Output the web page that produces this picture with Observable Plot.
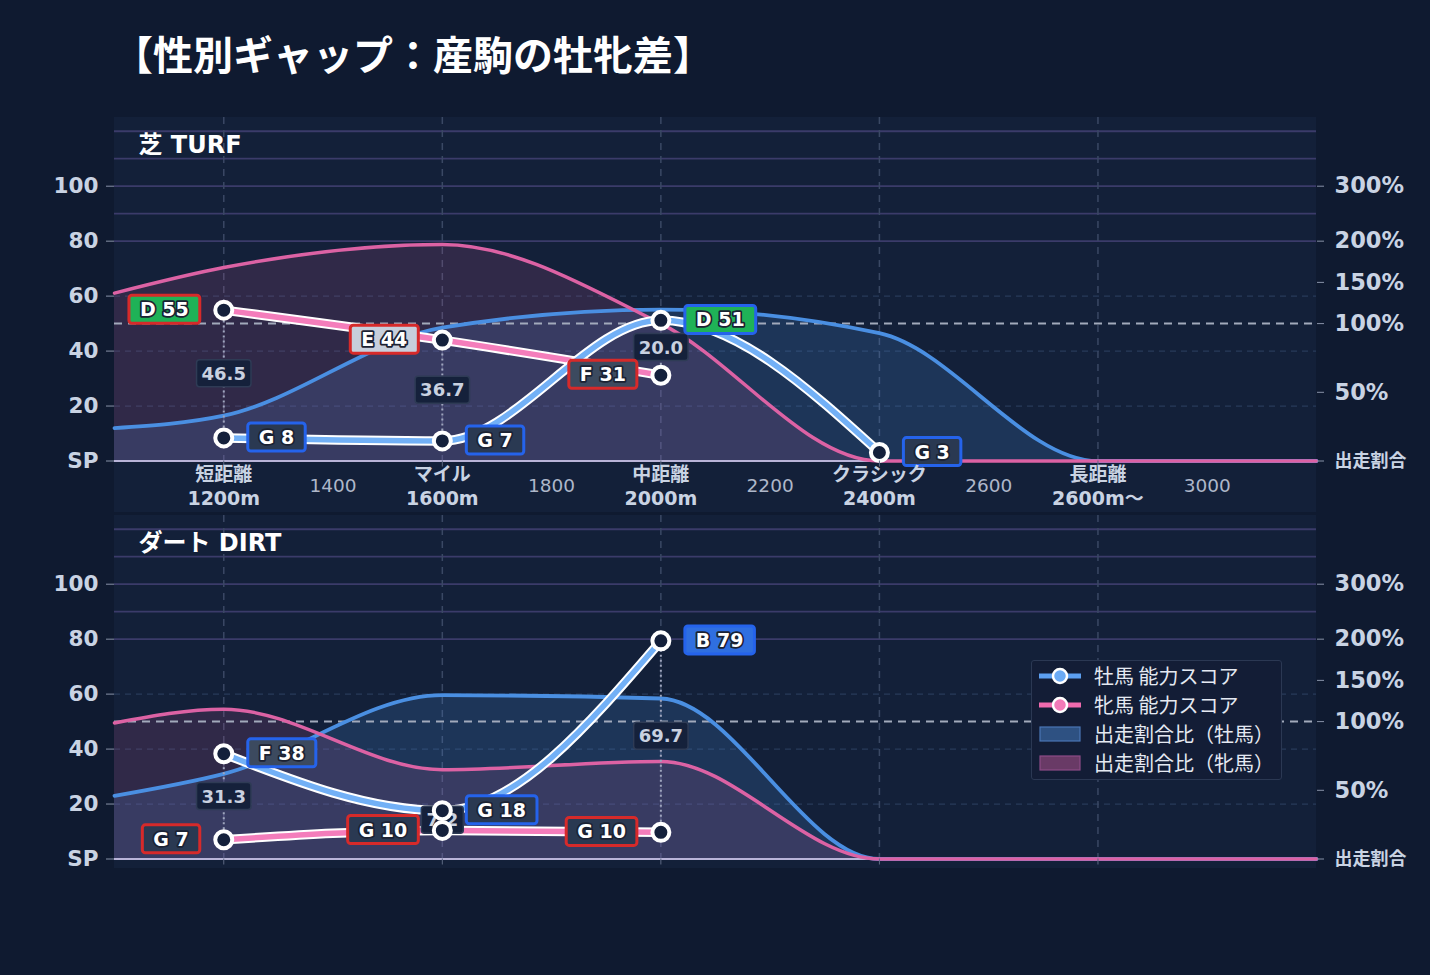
<!DOCTYPE html>
<html lang="ja">
<head>
<meta charset="utf-8">
<script src="https://cdn.jsdelivr.net/npm/d3@7"></script>
<script src="https://cdn.jsdelivr.net/npm/@observablehq/plot@0.6"></script>
<style>
html,body{margin:0;padding:0;}
body{width:1430px;height:975px;background:#0f1a30;position:relative;overflow:hidden;font-family:"DejaVu Sans","Noto Sans CJK JP",sans-serif;}
#title{position:absolute;left:113px;top:26px;font-family:"Noto Sans CJK JP",sans-serif;font-size:40px;font-weight:700;color:#fff;line-height:54px;white-space:nowrap;}
.pbg{position:absolute;left:114px;width:1202px;background:#132039;}
.panel{position:absolute;left:0;}
#legend{position:absolute;left:1031px;top:660px;width:249px;height:118px;background:#131d36;border:1.5px solid #2b3853;border-radius:3px;padding-top:0px;box-sizing:content-box;}
.lrow{display:flex;align-items:center;height:29px;}
.lrow svg{margin-left:6px;margin-right:12px;flex:none;}
.lrow span{font-family:"Noto Sans CJK JP",sans-serif;font-size:20px;color:#e4e9f2;line-height:29px;white-space:nowrap;}
</style>
</head>
<body>
<div id="title">【性別ギャップ：産駒の牡牝差】</div>
<div class="pbg" style="top:117px;height:395px"></div>
<div class="pbg" style="top:515px;height:353px"></div>
<div id="turf" class="panel" style="top:117px"></div>
<div id="dirt" class="panel" style="top:515px"></div>
<div id="legend"></div>
<script>
// ---- categories / ticks ----
const categories = ["短距離\n1200m", "マイル\n1600m", "中距離\n2000m", "クラシック\n2400m", "長距離\n2600m〜"];
const catPos = [0, 1, 2, 3, 4];
const subLabels = ["1400", "1800", "2200", "2600", "3000"];
const subPos = [0.5, 1.5, 2.5, 3.5, 4.5];
const scoreTicks = [0, 20, 40, 60, 80, 100];
const scoreTickLabels = ["SP", "20", "40", "60", "80", "100"];
const ratioTicks = [0, 50, 100, 150, 200, 300];
const ratioTickLabels = ["出走割合", "50%", "100%", "150%", "200%", "300%"];
const ratioKnots = [0, 100, 200, 300];
const ratioKnotScores = [0, 50, 80, 100];
const strongGrid = [80, 90, 100, 110, 120];
const weakGrid = [20, 40, 60];
const areaPos = [-0.5, 0, 1, 2, 3, 4, 5];

// ---- 芝 TURF ----
const turfMaleScore = [8.4, 7.3, 51.2, 3.1, null];
const turfMaleGrade = ["G", "G", "D", "G", null];
const turfFemaleScore = [54.9, 44.0, 31.2, null, null];
const turfFemaleGrade = ["D", "E", "F", null, null];
const turfMaleRatio = [24, 33, 97, 117, 93, 0, 0];
const turfFemaleRatio = [137, 168, 196, 100, 0, 0, 0];

// ---- ダート DIRT ----
const dirtMaleScore = [38.3, 17.6, 79.4, null, null];
const dirtMaleGrade = ["F", "G", "B", null, null];
const dirtFemaleScore = [7.0, 10.4, 9.7, null, null];
const dirtFemaleGrade = ["G", "G", "G", null, null];
const dirtMaleRatio = [46, 62, 132, 128, 0, 0, 0];
const dirtFemaleRatio = [99, 115, 65, 71, 0, 0, 0];

const legendLabels = ["牡馬 能力スコア", "牝馬 能力スコア", "出走割合比（牡馬）", "出走割合比（牝馬）"];

const gradeFill = {B: "#2f6fe0", D: "#1fb257", E: "#c7cfdc", F: "#3c4a5f", G: "#2a3952"};
const maleBorder = "#2563eb", femaleBorder = "#d62a2a";

const ratioScale = d3.scaleLinear().domain(ratioKnots).range(ratioKnotScores);
const FONT = '"DejaVu Sans","Noto Sans CJK JP",sans-serif';

function boxify(svg, label, styleFn, padX, h) {
  const texts = svg.querySelectorAll(`g[aria-description="${label}"] text`);
  texts.forEach((t, i) => {
    const bb = t.getBBox();
    const st = styleFn(i);
    const r = document.createElementNS("http://www.w3.org/2000/svg", "rect");
    r.setAttribute("x", bb.x - padX);
    r.setAttribute("width", bb.width + 2 * padX);
    r.setAttribute("y", bb.y + bb.height / 2 - h / 2);
    r.setAttribute("height", h);
    r.setAttribute("rx", 3);
    r.setAttribute("fill", st.fill);
    r.setAttribute("stroke", st.stroke);
    r.setAttribute("stroke-width", st.sw);
    r.setAttribute("paint-order", "fill");
    if (t.getAttribute("transform")) r.setAttribute("transform", t.getAttribute("transform"));
    t.parentNode.insertBefore(r, t);
  });
}

function makePanel(el, o) {
  const rows = (scores, grades) => catPos.map(i => ({x: i, y: scores[i], grade: grades[i]})).filter(d => d.y != null);
  const male = rows(o.maleScore, o.maleGrade);
  const female = rows(o.femaleScore, o.femaleGrade);
  const gaps = catPos.filter(i => o.maleScore[i] != null && o.femaleScore[i] != null).map(i => {
    const a = o.maleScore[i], b = o.femaleScore[i];
    return {x: i, y1: Math.min(a, b), y2: Math.max(a, b), mid: (a + b) / 2, label: Math.abs(a - b).toFixed(1)};
  });
  const area = ratios => areaPos.map((p, i) => ({x: p, y: ratioScale(ratios[i])}));
  const mA = area(o.maleRatio), fA = area(o.femaleRatio);
  const curve = "monotone-x";
  const leftMap = new Map(scoreTicks.map((d, i) => [d, scoreTickLabels[i]]));
  const rightVals = ratioTicks.map(r => ratioScale(r));
  const rightMap = new Map(rightVals.map((d, i) => [d, ratioTickLabels[i]]));

  const marks = [
    Plot.ruleY(weakGrid, {stroke: "#283a5a", strokeWidth: 1.3, strokeDasharray: "6,5"}),
    Plot.ruleY(strongGrid, {stroke: "#3b3b6a", strokeWidth: 1.8}),
    Plot.ruleX(catPos, {stroke: "#3a4864", strokeWidth: 1.5, strokeDasharray: "7,6"}),
    Plot.areaY(mA, {x: "x", y: "y", curve, fill: "#4a8fe0", fillOpacity: 0.19}),
    Plot.areaY(fA, {x: "x", y: "y", curve, fill: "#d9609f", fillOpacity: 0.15}),
    Plot.ruleY([ratioScale(100)], {stroke: "#a2aabb", strokeWidth: 2, strokeDasharray: "8,6"}),
    Plot.ruleY([0], {stroke: "#b9b4d8", strokeWidth: 2}),
    Plot.line(mA, {x: "x", y: "y", curve, stroke: "#4a8fe2", strokeWidth: 3.8}),
    Plot.line(fA, {x: "x", y: "y", curve, stroke: "#dc62a4", strokeWidth: 3.5}),
    Plot.ruleX(gaps, {x: "x", y1: "y1", y2: "y2", stroke: "#9ea5bd", strokeWidth: 2, strokeDasharray: "2,3"}),
    Plot.line(female, {x: "x", y: "y", curve, stroke: "#ffffff", strokeWidth: 9.5}),
    Plot.line(female, {x: "x", y: "y", curve, stroke: "#f47dbb", strokeWidth: 5.5}),
    Plot.line(male, {x: "x", y: "y", curve, stroke: "#ffffff", strokeWidth: 9.5}),
    Plot.line(male, {x: "x", y: "y", curve, stroke: "#72b0f6", strokeWidth: 5.5}),
    Plot.text(gaps, {x: "x", y: "mid", text: "label", fill: "#c9d1e0", fontFamily: FONT, fontWeight: "bold", fontSize: 18, ariaDescription: "gap-label"}),
    Plot.dot(male, {x: "x", y: "y", r: 8.5, fill: "#14203b", stroke: "#ffffff", strokeWidth: 4}),
    Plot.dot(female, {x: "x", y: "y", r: 8.5, fill: "#14203b", stroke: "#ffffff", strokeWidth: 4}),
    Plot.text(male, {x: "x", y: "y", text: d => `${d.grade} ${Math.round(d.y)}`, textAnchor: "start", dx: 35, fill: "#ffffff", stroke: "#1b2233", strokeWidth: 3.5, fontFamily: FONT, fontWeight: "bold", fontSize: 19, ariaDescription: "grade-m"}),
    Plot.text(female, {x: "x", y: "y", text: d => `${d.grade} ${Math.round(d.y)}`, textAnchor: "end", dx: -35, fill: "#ffffff", stroke: "#1b2233", strokeWidth: 3.5, fontFamily: FONT, fontWeight: "bold", fontSize: 19, ariaDescription: "grade-f"}),
    Plot.text([o.title], {text: d => d, frameAnchor: "top-left", textAnchor: "start", lineAnchor: "middle", dx: 24, dy: 28, fill: "#ffffff", fontSize: 24, fontWeight: "bold", fontFamily: FONT}),
    Plot.axisY(scoreTicks, {anchor: "left", tickFormat: d => leftMap.get(d), tickSize: 8, tickPadding: 8, fontSize: 21.5, fontWeight: "bold", fill: "#c9d3e3", stroke: "#8892a8", label: null}),
    Plot.axisY(rightVals.slice(1), {anchor: "right", tickFormat: d => rightMap.get(d), tickSize: 7, tickPadding: 11, fontSize: 22.5, fontWeight: "bold", fill: "#c9d3e3", stroke: "#8892a8", label: null}),
    Plot.axisY(rightVals.slice(0, 1), {anchor: "right", tickFormat: d => rightMap.get(d), tickSize: 7, tickPadding: 11, fontSize: 18, fontWeight: "bold", fill: "#c9d3e3", stroke: "#8892a8", label: null}),
  ];
  if (o.showX) {
    marks.push(Plot.axisX(catPos, {tickFormat: () => "", tickSize: 6, stroke: "#5e6a84", label: null}));
    marks.push(Plot.axisX(catPos, {tickFormat: i => categories[i], tickSize: 0, tickPadding: 3, fontSize: 19, fontWeight: "bold", lineHeight: 1.26, fill: "#c9d3e3", label: null}));
    marks.push(Plot.axisX(subPos, {tickFormat: d => subLabels[subPos.indexOf(d)], tickSize: 0, tickPadding: 18, fontSize: 18.5, fill: "#aeb7c9", label: null}));
  } else {
    marks.push(Plot.axisX(catPos, {tickFormat: () => "", tickSize: 6, stroke: "#5e6a84", label: null}));
  }

  const svg = Plot.plot({
    width: 1430, height: 400,
    marginLeft: 114, marginRight: 114, marginTop: 0, marginBottom: 56.5,
    x: {domain: [-0.5, 5]},
    y: {domain: [0, 125]},
    style: {background: "transparent", fontFamily: FONT, overflow: "visible"},
    marks
  });
  el.appendChild(svg);
  boxify(svg, "gap-label", () => ({fill: "#15213b", stroke: "#2e3b55", sw: 1.5}), 5, 27);
  boxify(svg, "grade-m", i => ({fill: gradeFill[male[i].grade], stroke: maleBorder, sw: 3}), 11, 28);
  boxify(svg, "grade-f", i => ({fill: gradeFill[female[i].grade], stroke: femaleBorder, sw: 3}), 11, 28);
}

makePanel(document.getElementById("turf"), {
  title: "芝 TURF", showX: true,
  maleScore: turfMaleScore, maleGrade: turfMaleGrade, femaleScore: turfFemaleScore, femaleGrade: turfFemaleGrade,
  maleRatio: turfMaleRatio, femaleRatio: turfFemaleRatio
});
makePanel(document.getElementById("dirt"), {
  title: "ダート DIRT", showX: false,
  maleScore: dirtMaleScore, maleGrade: dirtMaleGrade, femaleScore: dirtFemaleScore, femaleGrade: dirtFemaleGrade,
  maleRatio: dirtMaleRatio, femaleRatio: dirtFemaleRatio
});

// ---- legend ----
const legendIcons = [
  `<svg width="44" height="20"><line x1="1" y1="10" x2="43" y2="10" stroke="#5c9ff0" stroke-width="5"/><circle cx="22" cy="10" r="7" fill="#6aaaf5" stroke="#fff" stroke-width="2.5"/></svg>`,
  `<svg width="44" height="20"><line x1="1" y1="10" x2="43" y2="10" stroke="#f06aae" stroke-width="5"/><circle cx="22" cy="10" r="7" fill="#f27ab8" stroke="#fff" stroke-width="2.5"/></svg>`,
  `<svg width="44" height="20"><rect x="2" y="3" width="40" height="14" fill="#2e5182" stroke="#4a76b5" stroke-width="1.2"/></svg>`,
  `<svg width="44" height="20"><rect x="2" y="3" width="40" height="14" fill="#693a66" stroke="#8c4b86" stroke-width="1.2"/></svg>`
];
document.getElementById("legend").innerHTML = legendLabels.map((t, i) =>
  `<div class="lrow">${legendIcons[i]}<span>${t}</span></div>`).join("");
</script>
</body>
</html>
